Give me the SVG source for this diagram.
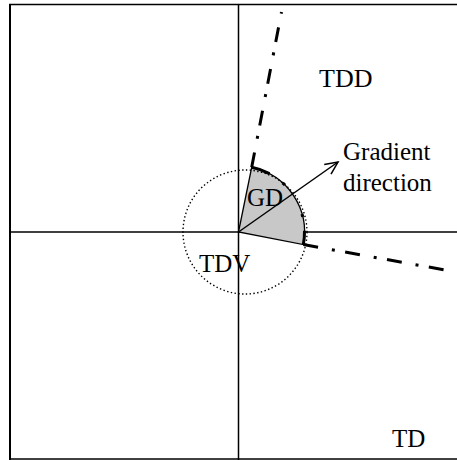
<svg xmlns="http://www.w3.org/2000/svg" width="457" height="460" viewBox="0 0 457 460">
  <style>
    .lbl { font-family: "Liberation Serif", "Times New Roman", serif; font-size: 25px; fill: #000; }
    .axis { stroke: #000; stroke-width: 1.5; fill: none; }
    .frame { stroke: #000; fill: none; }
    .dashdot { stroke: #000; stroke-width: 3; fill: none; stroke-dasharray: 15 14 3 10.5; }
    .circle { stroke: #000; stroke-width: 1.4; fill: none; stroke-dasharray: 1.4 2.4; }
  </style>
  <defs>
    <marker id="openArrow" markerUnits="userSpaceOnUse" markerWidth="20" markerHeight="20" viewBox="-16 -10 20 20" refX="0" refY="0" orient="auto">
      <path d="M-12.7,-5.9 L0,0 L-12.7,5.9" fill="none" stroke="#000" stroke-width="1.5"/>
    </marker>
  </defs>
  <rect width="457" height="460" fill="#fff"/>

  <g id="frame">
    <line class="frame" x1="9" y1="4.5" x2="457" y2="4.5" stroke-width="1.5"/>
    <line class="frame" x1="10" y1="4" x2="10" y2="460" stroke-width="2"/>
    <line class="frame" x1="9" y1="459" x2="457" y2="459" stroke-width="1.5"/>
  </g>

  <g id="axes">
    <line class="axis" x1="238.5" y1="4" x2="238.5" y2="460"/>
    <line class="axis" x1="9" y1="232" x2="457" y2="232"/>
  </g>

  <g id="GD">
    <path d="M238.5,232 L251.7,167.3 A66,66 0 0,1 303.3,244.6 Z" fill="#c8c8c8" stroke="#000" stroke-width="1.3"/>
    <path d="M251.7,167.3 A66,66 0 0,1 303.3,244.6" fill="none" stroke="#000" stroke-width="3" stroke-dasharray="19 16 3 34 3 14 15"/>
    <text class="lbl" x="247" y="206">GD</text>
  </g>

  <g id="TDV">
    <circle class="circle" cx="245" cy="232" r="62"/>
    <text class="lbl" x="199" y="272">TDV</text>
  </g>

  <g id="connectors">
    <line class="dashdot" x1="251.7" y1="167.3" x2="281.5" y2="12"/>
    <line class="dashdot" x1="303.3" y1="244.6" x2="460" y2="272.6"/>
    <line x1="238.5" y1="232" x2="338" y2="162" stroke="#000" stroke-width="1.5" marker-end="url(#openArrow)"/>
  </g>

  <g id="TDD">
    <text class="lbl" x="319" y="87" style="font-size:26px">TDD</text>
  </g>

  <g id="TD">
    <text class="lbl" x="392" y="447">TD</text>
  </g>

  <g id="gradient-label">
    <text class="lbl" x="343" y="160">Gradient</text>
    <text class="lbl" x="343" y="191">direction</text>
  </g>
</svg>
